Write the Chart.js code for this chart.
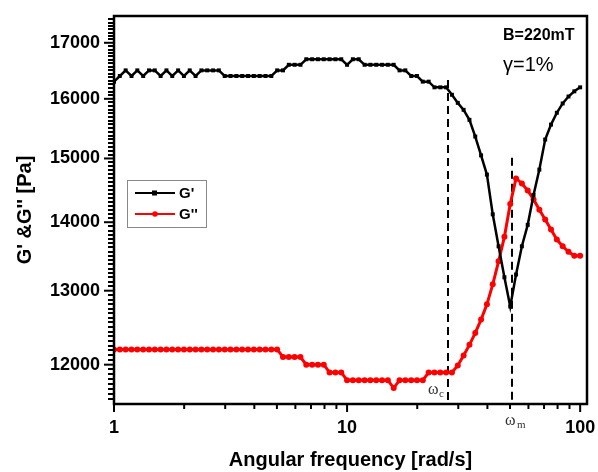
<!DOCTYPE html>
<html>
<head>
<meta charset="utf-8">
<script src="https://cdn.jsdelivr.net/npm/chart.js@4/dist/chart.umd.min.js"></script>
<style>
  body { margin: 0; background: #fff; }
</style>
</head>
<body>
<canvas id="chart" width="598" height="472"></canvas>
<script>
// angular frequency [rad/s]
const freq = [
    1.000, 1.059, 1.122, 1.189, 1.259, 1.334, 1.413, 1.496, 1.585, 1.679,
    1.778, 1.884, 1.995, 2.113, 2.239, 2.371, 2.512, 2.661, 2.818, 2.985,
    3.162, 3.350, 3.548, 3.758, 3.981, 4.217, 4.467, 4.732, 5.012, 5.309,
    5.623, 5.957, 6.310, 6.683, 7.079, 7.499, 7.943, 8.414, 8.913, 9.441,
    10.00, 10.59, 11.22, 11.89, 12.59, 13.34, 14.13, 14.96, 15.85, 16.79,
    17.78, 18.84, 19.95, 21.13, 22.39, 23.71, 25.12, 26.61, 28.18, 29.85,
    31.62, 33.50, 35.48, 37.58, 39.81, 42.17, 44.67, 47.32, 50.12, 53.09,
    56.23, 59.57, 63.10, 66.83, 70.79, 74.99, 79.43, 84.14, 89.13, 94.41,
    100.0
];

// G' [Pa]
const gStorage = [
    16300, 16400, 16500, 16400, 16500, 16400, 16500, 16500, 16400, 16500,
    16400, 16500, 16400, 16500, 16400, 16500, 16500, 16500, 16500, 16400,
    16400, 16400, 16400, 16400, 16400, 16400, 16400, 16400, 16500, 16500,
    16600, 16600, 16600, 16700, 16700, 16700, 16700, 16700, 16700, 16700,
    16600, 16700, 16700, 16600, 16600, 16600, 16600, 16600, 16600, 16500,
    16500, 16400, 16400, 16300, 16300, 16200, 16200, 16200, 16070, 15930,
    15810, 15640, 15360, 15050, 14740, 14120, 13640, 13190, 12780, 13230,
    13640, 13960, 14420, 14820, 15310, 15560, 15760, 15920, 16040, 16130,
    16200
];

// G'' [Pa]
const gLoss = [
    12200, 12200, 12200, 12200, 12200, 12200, 12200, 12200, 12200, 12200,
    12200, 12200, 12200, 12200, 12200, 12200, 12200, 12200, 12200, 12200,
    12200, 12200, 12200, 12200, 12200, 12200, 12200, 12200, 12200, 12100,
    12100, 12100, 12100, 12000, 12000, 12000, 12000, 11900, 11900, 11900,
    11800, 11800, 11800, 11800, 11800, 11800, 11800, 11800, 11700, 11800,
    11800, 11800, 11800, 11800, 11900, 11900, 11900, 11900, 11900, 11990,
    12120, 12260, 12420, 12600, 12810, 13090, 13420, 13780, 14280, 14680,
    14600, 14490, 14350, 14190, 14040, 13890, 13740, 13640, 13560, 13500,
    13500
];

// dashed markers: omega_c and omega_m, with the value where each dash line starts
const markFreq = [27.1, 51.0];
const markTop = [16330, 15010];
const markName = ['c', 'm'];

const xTicks = [1, 10, 100];
const xMinor = [2, 3, 4, 5, 6, 7, 8, 9, 20, 30, 40, 50, 60, 70, 80, 90];
const yTicks = [12000, 13000, 14000, 15000, 16000, 17000];

const X_MIN = 1, X_MAX = 107, Y_MIN = 11500, Y_MAX = 17500;

const SANS = "'Liberation Sans', Arial, sans-serif";
const SERIF = "'Liberation Serif', 'Times New Roman', serif";

function pts(ys) {
    return freq.map((f, i) => ({ x: f, y: ys[i] }));
}

function dashSet(i) {
    return {
        label: 'w' + markName[i],
        data: [{ x: markFreq[i], y: markTop[i] }, { x: markFreq[i], y: Y_MIN }],
        borderColor: '#000',
        borderWidth: 2,
        borderDash: [8, 5],
        pointRadius: 0,
        fill: false
    };
}

// frame, tick marks, notes and the boxed legend
const decor = {
    id: 'decor',
    afterDraw(chart) {
        const ctx = chart.ctx;
        const a = chart.chartArea;
        const xs = chart.scales.x, ys = chart.scales.y;
        ctx.save();

        // tick marks (outside)
        ctx.strokeStyle = '#000';
        ctx.lineCap = 'butt';
        ctx.lineWidth = 2;
        xTicks.forEach(v => {
            const px = xs.getPixelForValue(v);
            ctx.beginPath(); ctx.moveTo(px, a.bottom); ctx.lineTo(px, a.bottom + 8); ctx.stroke();
        });
        xMinor.forEach(v => {
            const px = xs.getPixelForValue(v);
            ctx.beginPath(); ctx.moveTo(px, a.bottom); ctx.lineTo(px, a.bottom + 5); ctx.stroke();
        });
        yTicks.forEach(v => {
            const py = ys.getPixelForValue(v);
            ctx.beginPath(); ctx.moveTo(a.left, py); ctx.lineTo(a.left - 10, py); ctx.stroke();
        });
        ctx.lineWidth = 2;
        for (let v = Y_MIN + 62.5; v < Y_MAX; v += 62.5) {
            if (v % 1000 === 0) continue;
            const py = Math.round(ys.getPixelForValue(v));
            ctx.beginPath(); ctx.moveTo(a.left, py); ctx.lineTo(a.left - 6, py); ctx.stroke();
        }

        // frame
        ctx.lineWidth = 2.5;
        ctx.strokeRect(a.left, a.top, a.right - a.left, a.bottom - a.top);

        // notes
        ctx.fillStyle = '#000';
        ctx.textBaseline = 'alphabetic';
        ctx.textAlign = 'left';
        ctx.font = 'bold 16px ' + SANS;
        ctx.fillText('B=220mT', a.right - 84, a.top + 24);
        ctx.font = '20px ' + SANS;
        ctx.fillText('\u03b3=1%', a.right - 84, a.top + 55);

        // omega labels
        ctx.fillStyle = '#333';
        const cx = xs.getPixelForValue(markFreq[0]);
        ctx.font = '16px ' + SERIF;
        ctx.fillText('\u03c9', cx - 20, a.bottom - 10);
        ctx.font = '11px ' + SERIF;
        ctx.fillText(markName[0], cx - 9, a.bottom - 7);
        const mx = xs.getPixelForValue(markFreq[1]);
        ctx.font = '16px ' + SERIF;
        ctx.fillText('\u03c9', mx - 7, a.bottom + 21);
        ctx.font = '11px ' + SERIF;
        ctx.fillText(markName[1], mx + 5, a.bottom + 24);

        // legend box
        const lx = a.left + 13, ly = a.top + 164;
        ctx.strokeStyle = '#888';
        ctx.lineWidth = 1;
        ctx.strokeRect(lx + 0.5, ly + 0.5, 79, 47);
        chart.data.datasets.slice(0, 2).forEach((ds, k) => {
            const y = ly + 13 + k * 21;
            ctx.strokeStyle = ds.borderColor;
            ctx.lineWidth = 2;
            ctx.beginPath(); ctx.moveTo(lx + 8, y); ctx.lineTo(lx + 48, y); ctx.stroke();
            ctx.fillStyle = ds.borderColor;
            if (ds.pointStyle === 'rect') {
                ctx.fillRect(lx + 25, y - 2.5, 5, 5);
            } else {
                ctx.beginPath(); ctx.arc(lx + 28, y, 2.8, 0, Math.PI * 2); ctx.fill();
            }
            ctx.fillStyle = '#000';
            ctx.font = 'bold 15px ' + SANS;
            ctx.textBaseline = 'middle';
            ctx.fillText(ds.label, lx + 52, y + 1);
        });
        ctx.restore();
    }
};

new Chart(document.getElementById('chart'), {
    type: 'line',
    data: {
        datasets: [
            {
                label: "G'",
                data: pts(gStorage),
                borderColor: '#000',
                backgroundColor: '#000',
                borderWidth: 2.5,
                pointStyle: 'rect',
                pointRadius: 2.8,
                pointBorderWidth: 0,
                fill: false
            },
            {
                label: "G''",
                data: pts(gLoss),
                borderColor: '#ff0000',
                backgroundColor: '#ff0000',
                borderWidth: 3,
                pointStyle: 'circle',
                pointRadius: 3,
                pointBorderWidth: 0,
                fill: false
            },
            dashSet(0),
            dashSet(1)
        ]
    },
    options: {
        responsive: false,
        animation: false,
        layout: { padding: { top: 16, right: 11, left: 0, bottom: 0 } },
        plugins: {
            legend: { display: false },
            tooltip: { enabled: false }
        },
        scales: {
            x: {
                type: 'logarithmic',
                min: X_MIN,
                max: X_MAX,
                grid: { display: false, drawTicks: false },
                border: { display: false },
                afterBuildTicks: s => { s.ticks = xTicks.map(v => ({ value: v })); },
                afterFit: s => {
                    s.height = 68;
                    s.paddingLeft = 0;
                    s.paddingRight = 0;
                },
                ticks: {
                    color: '#000',
                    padding: 13,
                    autoSkip: false,
                    maxRotation: 0,
                    font: { family: SANS, size: 18, weight: 'bold' },
                    callback: v => String(v)
                },
                title: {
                    display: true,
                    text: 'Angular frequency [rad/s]',
                    color: '#000',
                    font: { family: SANS, size: 20, weight: 'bold' },
                    padding: { top: 0, bottom: 0 }
                }
            },
            y: {
                type: 'logarithmic',
                min: Y_MIN,
                max: Y_MAX,
                grid: { display: false, drawTicks: false },
                border: { display: false },
                afterBuildTicks: s => { s.ticks = yTicks.map(v => ({ value: v })); },
                afterFit: s => {
                    s.width = 114;
                    s.paddingTop = 0;
                    s.paddingBottom = 0;
                },
                ticks: {
                    color: '#000',
                    padding: 14,
                    autoSkip: false,
                    font: { family: SANS, size: 18, weight: 'bold' },
                    callback: v => String(v)
                },
                title: {
                    display: true,
                    text: "G' &G'' [Pa]",
                    color: '#000',
                    font: { family: SANS, size: 20, weight: 'bold' },
                    padding: { top: 13, bottom: 0 }
                }
            }
        }
    },
    plugins: [decor]
});
</script>
</body>
</html>
